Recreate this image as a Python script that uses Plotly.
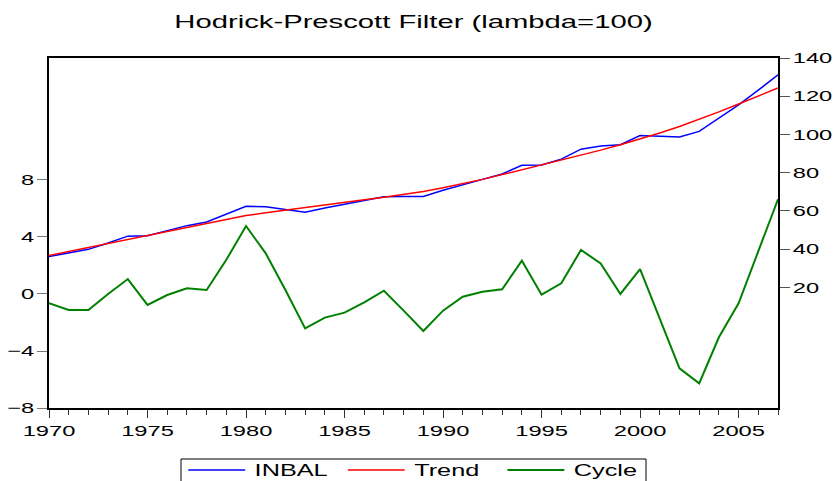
import plotly.graph_objects as go

years = list(range(1970, 2008))

inbal = [36.1, 38.0, 39.9, 43.2, 46.8, 47.0, 49.8, 52.3, 54.2, 58.2,
         62.4, 62.2, 60.7, 59.3, 61.5, 63.4, 65.4, 67.4, 67.5, 67.6,
         70.8, 73.8, 76.5, 79.3, 83.9, 84.0, 87.1, 92.3, 94.0, 94.6,
         99.4, 99.0, 98.7, 101.6, 108.7, 115.5, 123.2, 131.2]

trend = [36.7, 38.8, 40.9, 43.0, 45.1, 47.2, 49.3, 51.4, 53.5, 55.6,
         57.6, 59.0, 60.3, 61.6, 63.0, 64.4, 65.8, 67.2, 68.7, 70.2,
         72.1, 74.2, 76.5, 79.0, 81.5, 84.0, 86.5, 89.1, 91.8, 94.6,
         97.6, 100.8, 104.2, 107.8, 111.8, 115.9, 120.1, 124.3]

cycle = [-0.65, -1.12, -1.12, 0.0, 1.05, -0.77, -0.07, 0.40, 0.28, 2.40,
         4.77, 2.85, 0.28, -2.41, -1.66, -1.31, -0.58, 0.23, -1.17, -2.60,
         -1.17, -0.19, 0.16, 0.33, 2.34, -0.05, 0.75, 3.09, 2.15, 0.0,
         1.75, -1.70, -5.22, -6.27, -3.04, -0.65, 3.00, 6.65]

cycle_ticks = [-8, -4, 0, 4, 8]
level_ticks = [20, 40, 60, 80, 100, 120, 140]

FONT = "Liberation Sans, Arial, Helvetica, sans-serif"

fig = go.Figure()
fig.add_trace(go.Scatter(x=years, y=inbal, name="INBAL", mode="lines",
                         line=dict(color="#0000FF", width=1.5), yaxis="y2"))
fig.add_trace(go.Scatter(x=years, y=trend, name="Trend", mode="lines",
                         line=dict(color="#FF0000", width=1.5), yaxis="y2"))
fig.add_trace(go.Scatter(x=years, y=cycle, name="Cycle", mode="lines",
                         line=dict(color="#008000", width=2), yaxis="y"))

fig.update_layout(
    width=840, height=481,
    margin=dict(l=49, r=62, t=58, b=73, pad=0, autoexpand=False),
    paper_bgcolor="white", plot_bgcolor="white",
    font=dict(family=FONT, size=15, color="black"),
    title=dict(text="Hodrick-Prescott Filter (lambda=100)", x=0.5, xref="paper",
               xanchor="center", y=1 - 22 / 481, yref="container", yanchor="middle",
               font=dict(size=18.5, family=FONT, color="black")),
    showlegend=True,
    legend=dict(orientation="h", x=0.5064, xanchor="center", y=-0.129, yanchor="top",
                borderwidth=0, bgcolor="rgba(0,0,0,0)",
                entrywidth=56, entrywidthmode="pixels",
                font=dict(size=16, family=FONT, color="black")),
    shapes=[dict(type="rect", xref="paper", yref="paper",
                 x0=(181 - 49) / 729, x1=(646 - 49) / 729,
                 y0=-0.35, y1=-(459 - 408) / 350,
                 line=dict(color="black", width=1), fillcolor="rgba(0,0,0,0)",
                 layer="above")],
    xaxis=dict(range=[1970, 2007], tickmode="linear", tick0=1970, dtick=5,
               ticks="outside", ticklen=8, tickcolor="#333", tickwidth=1,
               showline=True, linecolor="black", linewidth=1.5, mirror=True,
               showgrid=False, zeroline=False,
               minor=dict(dtick=1, tick0=1970, ticks="outside", ticklen=5,
                          tickcolor="#333", tickwidth=1, showgrid=False)),
    yaxis=dict(range=[-8, 16.56], tickvals=cycle_ticks, ticks="outside", ticklen=10,
               tickcolor="#777", tickwidth=1, showline=True, linecolor="black",
               linewidth=1.5, showgrid=False, zeroline=False),
    yaxis2=dict(range=[-43.1, 140], overlaying="y", side="right", tickvals=level_ticks,
                ticks="outside", ticklen=10, tickcolor="#555", tickwidth=1,
                showline=True, linecolor="black", linewidth=1.5,
                showgrid=False, zeroline=False),
)

post = """
document.body.style.margin = '0';
document.body.style.overflow = 'hidden';
var gd = document.querySelector('.js-plotly-plot');
var sx = 1.58;
gd.querySelectorAll('text').forEach(function(t){
  if (t.closest('.legend')) return;
  if (!t.textContent) return;
  var bb = t.getBBox();
  var a = t.getAttribute('text-anchor') || 'start';
  var cx = (a === 'middle') ? bb.x + bb.width / 2 : ((a === 'end') ? bb.x + bb.width : bb.x);
  var tr = t.getAttribute('transform') || '';
  t.setAttribute('transform', tr + ' translate(' + cx + ',0) scale(' + sx + ',1) translate(' + (-cx) + ',0)');
});
var lg = gd.querySelector('g.legend');
if (lg) {
  var b = lg.getBBox();
  var c = b.x + b.width / 2;
  lg.querySelectorAll('path.js-line').forEach(function(p){ p.setAttribute('d', 'M6,0h36'); });
  lg.querySelectorAll('text.legendtext').forEach(function(t){ t.setAttribute('x', '48'); });
  var tr2 = lg.getAttribute('transform') || '';
  lg.setAttribute('transform', tr2 + ' translate(' + c + ',0) scale(' + sx + ',1) translate(' + (-c) + ',0)');
}
"""

fig.write_html("out.html", post_script=post, config={"displayModeBar": False})
